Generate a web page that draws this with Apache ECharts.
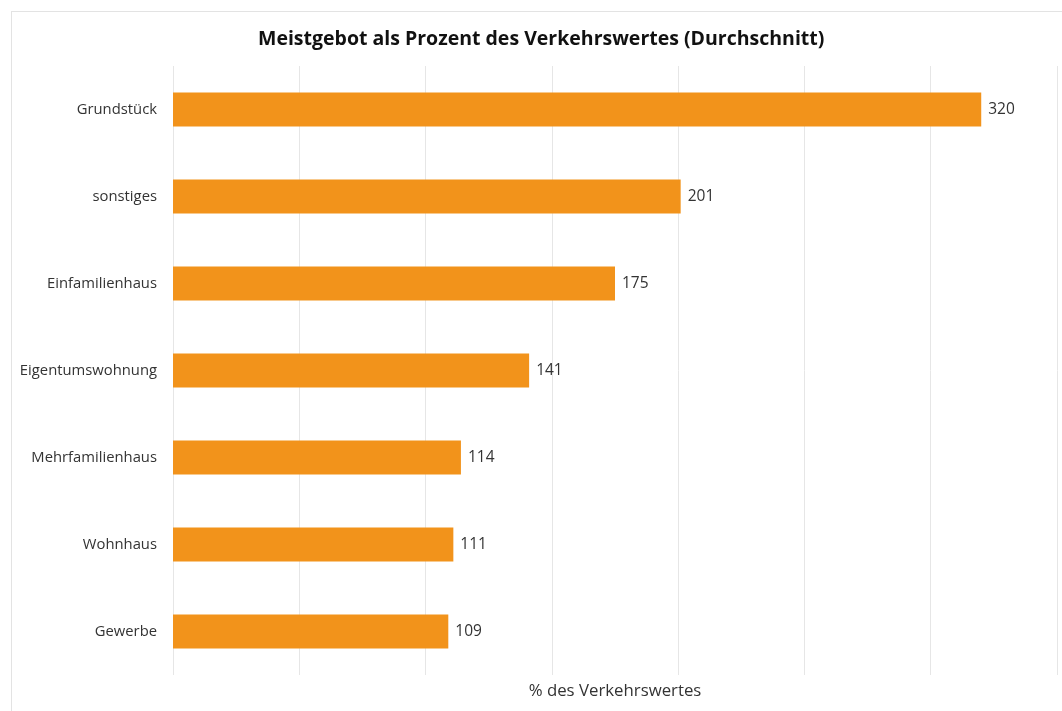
<!DOCTYPE html>
<html>
<head>
<meta charset="utf-8">
<script src="https://cdn.jsdelivr.net/npm/echarts@6/dist/echarts.min.js"></script>
<style>
  html, body { margin: 0; padding: 0; background: #fff; overflow: hidden; }
  #frame { position: absolute; left: 11px; top: 11px; width: 1100px; height: 760px; border: 1px solid #e3e3e3; }
  #main { position: absolute; left: 0; top: 0; width: 1062px; height: 711px; }
</style>
</head>
<body>
<div id="frame"></div>
<div id="main"></div>
<script>
// data, top category first
var categories = ['Grundstück', 'sonstiges', 'Einfamilienhaus', 'Eigentumswohnung', 'Mehrfamilienhaus', 'Wohnhaus', 'Gewerbe'];
var values = [320, 201, 175, 141, 114, 111, 109];

var chartDom = document.getElementById('main');
var myChart = echarts.init(chartDom);
var option;

var font = '"Open Sans", "Noto Sans", sans-serif';

option = {
    animation: false,
    textStyle: { fontFamily: font },
    title: {
        text: 'Meistgebot als Prozent des Verkehrswertes (Durchschnitt)',
        left: 253,
        top: 24,
        textStyle: {
            fontFamily: font,
            fontSize: 19.5,
            fontWeight: 'bold',
            color: '#111'
        }
    },
    grid: {
        left: 173,
        right: 5,
        top: 66,
        bottom: 36,
        containLabel: false
    },
    xAxis: {
        type: 'value',
        min: 0,
        max: 350,
        interval: 50,
        name: '% des Verkehrswertes',
        nameLocation: 'middle',
        nameGap: 8,
        nameTextStyle: { fontFamily: font, fontSize: 16.8, color: '#333', verticalAlign: 'top' },
        axisLabel: { show: false },
        axisTick: { show: false },
        axisLine: { show: false },
        splitLine: { show: true, lineStyle: { color: '#e6e6e6', width: 1 } }
    },
    yAxis: {
        type: 'category',
        inverse: true,
        data: categories,
        axisTick: { show: false },
        axisLine: { show: false },
        axisLabel: { margin: 16, fontFamily: font, fontSize: 14.8, color: '#333' }
    },
    series: [
        {
            type: 'bar',
            data: values,
            barWidth: 34,
            itemStyle: { color: '#f2931b' },
            label: {
                show: true,
                position: 'right',
                distance: 7,
                fontFamily: font,
                fontSize: 15.5,
                color: '#333'
            }
        }
    ]
};

option && myChart.setOption(option);
</script>
</body>
</html>
